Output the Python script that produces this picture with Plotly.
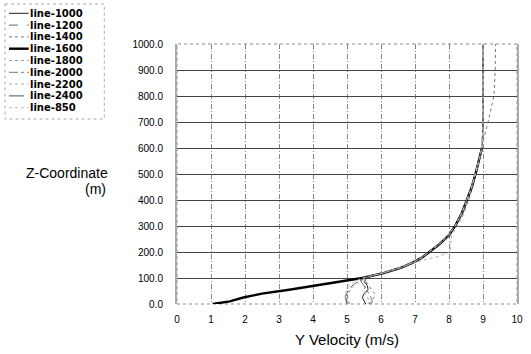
import plotly.graph_objects as go

# ---------------- data ----------------
series_names = ["line-1000", "line-1200", "line-1400", "line-1600", "line-1800",
                "line-2000", "line-2200", "line-2400", "line-850"]

z_levels = [0, 10, 25, 40, 55, 70, 85, 100, 120, 140, 160, 180, 200, 230, 265,
            300, 350, 400, 450, 500, 550, 600, 700, 800, 900, 1000]

vel_1000 = [5.55, 5.50, 5.45, 5.50, 5.62, 5.60, 5.52, 5.55, 6.10, 6.60, 6.95, 7.22, 7.40, 7.70, 7.98,
            8.17, 8.37, 8.52, 8.66, 8.77, 8.88, 8.97, 9.00, 9.00, 9.00, 9.00]
vel_1200 = [5.00, 4.98, 4.95, 4.97, 5.05, 5.15, 5.30, 5.50, 6.08, 6.58, 6.96, 7.24, 7.43, 7.73, 8.01,
            8.19, 8.39, 8.54, 8.68, 8.79, 8.89, 8.97, 9.00, 9.00, 9.00, 9.00]
vel_1400 = [5.65, 5.72, 5.80, 5.82, 5.72, 5.65, 5.55, 5.55, 6.12, 6.62, 6.97, 7.23, 7.42, 7.72, 8.00,
            8.20, 8.42, 8.58, 8.70, 8.80, 8.88, 8.95, 9.15, 9.32, 9.36, 9.37]
vel_1600 = [1.05, 1.55, 1.95, 2.50, 3.30, 4.00, 4.74, 5.45, 6.10, 6.60, 6.95, 7.22, 7.42, 7.72, 8.00,
            8.18, 8.38, 8.53, 8.67, 8.78, 8.88, 8.97, None, None, None, None]
vel_1800 = [5.60, 5.68, 5.60, 5.52, 5.50, 5.55, 5.50, 5.50, 6.09, 6.61, 6.94, 7.21, 7.41, 7.71, 7.99,
            8.18, 8.38, 8.53, 8.67, 8.78, 8.88, 8.97, 9.00, 9.00, 9.00, 9.00]
vel_2000 = [5.70, 5.75, 5.70, 5.65, 5.58, 5.50, 5.42, 5.48, 6.05, 6.55, 6.92, 7.20, 7.40, 7.70, 7.98,
            8.17, 8.37, 8.52, 8.66, 8.77, 8.88, 8.97, 9.00, 9.00, 9.00, 9.00]
vel_2200 = [5.10, 5.05, 5.02, 5.05, 5.10, 5.20, 5.35, 5.50, 6.10, 6.60, 6.98, 7.60, 8.05, 8.05, 8.08,
            8.25, 8.45, 8.56, 8.68, 8.78, 8.88, 8.97, 9.00, 9.00, 9.00, 9.00]
vel_2400 = [5.05, 5.00, 4.96, 4.98, 5.08, 5.18, 5.32, 5.52, 6.12, 6.62, 6.97, 7.23, 7.43, 7.72, 8.02,
            8.20, 8.40, 8.55, 8.68, 8.79, 8.89, 8.97, 9.00, 9.00, 9.00, 9.00]
vel_850 = [5.05, 5.00, 4.95, 4.95, 5.00, 5.05, 5.20, 5.45, 6.08, 6.58, 6.95, 7.22, 7.41, 7.71, 7.99,
           8.18, 8.38, 8.53, 8.67, 8.78, 8.88, 8.97, 9.00, 9.00, 9.00, 9.00]

series_values = [vel_1000, vel_1200, vel_1400, vel_1600, vel_1800,
                 vel_2000, vel_2200, vel_2400, vel_850]

x_ticks = [0, 1, 2, 3, 4, 5, 6, 7, 8, 9, 10]
y_ticks = [0, 100, 200, 300, 400, 500, 600, 700, 800, 900, 1000]
y_tick_labels = ["0.0", "100.0", "200.0", "300.0", "400.0", "500.0",
                 "600.0", "700.0", "800.0", "900.0", "1000.0"]

# ---------------- styles ----------------
line_colors = ["#222222", "#666666", "#777777", "#000000", "#999999",
               "#777777", "#aaaaaa", "#555555", "#bbbbbb"]
line_widths = [1, 1, 1, 2.4, 1, 1, 1, 1, 1]
line_dashes = ["solid", "dash", "dot", "solid", "dot", "dashdot", "dot", "longdash", "dot"]

FONT = "Liberation Sans, Arial, sans-serif"
LEGEND_FONT = "DejaVu Sans, sans-serif"

W, H = 531, 354
L, R, T, B = 177, 8, 44, 50
PW, PH = W - L - R, H - T - B

fig = go.Figure()
for name, vals, c, w, d in zip(series_names, series_values, line_colors, line_widths, line_dashes):
    fig.add_trace(go.Scatter(x=vals, y=z_levels, mode="lines", name=name,
                             line=dict(color=c, width=w, dash=d), showlegend=False))


def px_x(p):
    return (p - L) / PW


def px_y(p):
    return (H - B - p) / PH


shapes = []
annotations = []

# frame (faint dotted top/bottom)
shapes.append(dict(type="rect", xref="paper", yref="paper", x0=0, x1=1, y0=0, y1=1,
                   line=dict(color="#888888", width=1, dash="dot"), layer="below"))

# manual compact legend
shapes.append(dict(type="rect", xref="paper", yref="paper",
                   x0=px_x(2), x1=px_x(103), y0=px_y(4), y1=px_y(119),
                   line=dict(color="#aaaaaa", width=1, dash="dot")))
for i, (name, c, w, d) in enumerate(zip(series_names, line_colors, line_widths, line_dashes)):
    yp = 13.3 + i * 11.8
    shapes.append(dict(type="line", xref="paper", yref="paper",
                       x0=px_x(6), x1=px_x(26), y0=px_y(yp), y1=px_y(yp),
                       line=dict(color=c, width=w, dash=d)))
    annotations.append(dict(text=name, xref="paper", yref="paper", x=px_x(26), y=px_y(yp),
                            xanchor="left", yanchor="middle", showarrow=False, borderpad=0,
                            font=dict(family=LEGEND_FONT, size=10, weight="bold", color="#000000")))

# y-axis title (horizontal)
annotations.append(dict(text="Z-Coordinate", xref="paper", yref="paper", x=px_x(109), y=px_y(173),
                        xanchor="right", yanchor="middle", showarrow=False,
                        font=dict(family=FONT, size=14, color="#000000")))
annotations.append(dict(text="(m)", xref="paper", yref="paper", x=px_x(107), y=px_y(189),
                        xanchor="right", yanchor="middle", showarrow=False,
                        font=dict(family=FONT, size=14, color="#000000")))

fig.update_layout(
    width=W, height=H,
    margin=dict(l=L, r=R, t=T, b=B, pad=0),
    paper_bgcolor="white", plot_bgcolor="white",
    font=dict(family=FONT, color="#000000"),
    shapes=shapes, annotations=annotations,
    showlegend=False,
)

fig.update_xaxes(
    range=[0, 10], tickmode="array", tickvals=x_ticks,
    ticks="", ticklabelstandoff=8,
    tickfont=dict(family=FONT, size=10, color="#000000"),
    showgrid=True, gridcolor="#888888", gridwidth=1, griddash="5px,2px,1px,2px",
    zeroline=False, showline=False,
    title=dict(text="Y Velocity (m/s)", font=dict(family=FONT, size=15, color="#000000"), standoff=10),
)
fig.update_yaxes(
    range=[0, 1000], tickmode="array", tickvals=y_ticks, ticktext=y_tick_labels,
    ticks="", ticklabelstandoff=10,
    tickfont=dict(family=FONT, size=10, color="#000000"),
    showgrid=True, gridcolor="#444444", gridwidth=1,
    zeroline=False, showline=True, mirror=True, linecolor="#aaaaaa", linewidth=2,
)

fig.write_html("out.html", config={"displayModeBar": False},
               post_script="document.body.style.margin='0';")
